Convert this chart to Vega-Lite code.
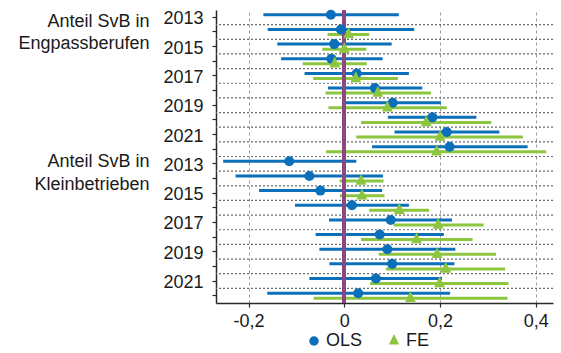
{
  "$schema": "https://vega.github.io/schema/vega-lite/v6.json",
  "width": 337,
  "height": 293,
  "autosize": "none",
  "padding": {"left": 216, "top": 10, "right": 8, "bottom": 50},
  "config": {
    "font": "Liberation Sans",
    "view": {"stroke": null},
    "axis": {"labelFont": "Liberation Sans", "labelFontSize": 18, "labelColor": "#1a1a1a", "domainColor": "#2a2a2a", "tickColor": "#2a2a2a", "domainWidth": 1.5, "tickWidth": 1.2, "tickSize": 4},
    "axisX": {"grid": true, "gridDash": [3, 3], "gridColor": "#9a9a9a", "gridWidth": 1, "labelPadding": 5, "title": null,
      "labelExpr": "datum.value == 0 ? '0' : replace(toString(datum.value), '.', ',')"}
  },
  "data": {
    "values": [
      {"cat": "E2013", "group": "Engpassberufen", "year": 2013, "model": "OLS", "est": -0.028, "lo": -0.169, "hi": 0.114},
      {"cat": "E2014", "group": "Engpassberufen", "year": 2014, "model": "OLS", "est": -0.007, "lo": -0.160, "hi": 0.146},
      {"cat": "E2015", "group": "Engpassberufen", "year": 2015, "model": "OLS", "est": -0.021, "lo": -0.140, "hi": 0.099},
      {"cat": "E2016", "group": "Engpassberufen", "year": 2016, "model": "OLS", "est": -0.027, "lo": -0.132, "hi": 0.080},
      {"cat": "E2017", "group": "Engpassberufen", "year": 2017, "model": "OLS", "est": 0.026, "lo": -0.083, "hi": 0.135},
      {"cat": "E2018", "group": "Engpassberufen", "year": 2018, "model": "OLS", "est": 0.064, "lo": -0.034, "hi": 0.163},
      {"cat": "E2019", "group": "Engpassberufen", "year": 2019, "model": "OLS", "est": 0.101, "lo": -0.003, "hi": 0.202},
      {"cat": "E2020", "group": "Engpassberufen", "year": 2020, "model": "OLS", "est": 0.184, "lo": 0.091, "hi": 0.276},
      {"cat": "E2021", "group": "Engpassberufen", "year": 2021, "model": "OLS", "est": 0.214, "lo": 0.105, "hi": 0.324},
      {"cat": "E2022", "group": "Engpassberufen", "year": 2022, "model": "OLS", "est": 0.220, "lo": 0.058, "hi": 0.383},
      {"cat": "K2013", "group": "Kleinbetrieben", "year": 2013, "model": "OLS", "est": -0.115, "lo": -0.253, "hi": 0.025},
      {"cat": "K2014", "group": "Kleinbetrieben", "year": 2014, "model": "OLS", "est": -0.073, "lo": -0.227, "hi": 0.081},
      {"cat": "K2015", "group": "Kleinbetrieben", "year": 2015, "model": "OLS", "est": -0.050, "lo": -0.178, "hi": 0.079},
      {"cat": "K2016", "group": "Kleinbetrieben", "year": 2016, "model": "OLS", "est": 0.016, "lo": -0.103, "hi": 0.135},
      {"cat": "K2017", "group": "Kleinbetrieben", "year": 2017, "model": "OLS", "est": 0.097, "lo": -0.032, "hi": 0.225},
      {"cat": "K2018", "group": "Kleinbetrieben", "year": 2018, "model": "OLS", "est": 0.074, "lo": -0.060, "hi": 0.208},
      {"cat": "K2019", "group": "Kleinbetrieben", "year": 2019, "model": "OLS", "est": 0.090, "lo": -0.052, "hi": 0.232},
      {"cat": "K2020", "group": "Kleinbetrieben", "year": 2020, "model": "OLS", "est": 0.100, "lo": -0.031, "hi": 0.230},
      {"cat": "K2021", "group": "Kleinbetrieben", "year": 2021, "model": "OLS", "est": 0.066, "lo": -0.073, "hi": 0.204},
      {"cat": "K2022", "group": "Kleinbetrieben", "year": 2022, "model": "OLS", "est": 0.029, "lo": -0.161, "hi": 0.221},
      {"cat": "E2014", "group": "Engpassberufen", "year": 2014, "model": "FE", "est": 0.009, "lo": -0.035, "hi": 0.052},
      {"cat": "E2015", "group": "Engpassberufen", "year": 2015, "model": "FE", "est": 0.000, "lo": -0.046, "hi": 0.046},
      {"cat": "E2016", "group": "Engpassberufen", "year": 2016, "model": "FE", "est": -0.020, "lo": -0.087, "hi": 0.047},
      {"cat": "E2017", "group": "Engpassberufen", "year": 2017, "model": "FE", "est": 0.024, "lo": -0.065, "hi": 0.112},
      {"cat": "E2018", "group": "Engpassberufen", "year": 2018, "model": "FE", "est": 0.070, "lo": -0.039, "hi": 0.181},
      {"cat": "E2019", "group": "Engpassberufen", "year": 2019, "model": "FE", "est": 0.090, "lo": -0.033, "hi": 0.214},
      {"cat": "E2020", "group": "Engpassberufen", "year": 2020, "model": "FE", "est": 0.171, "lo": 0.035, "hi": 0.307},
      {"cat": "E2021", "group": "Engpassberufen", "year": 2021, "model": "FE", "est": 0.200, "lo": 0.025, "hi": 0.373},
      {"cat": "E2022", "group": "Engpassberufen", "year": 2022, "model": "FE", "est": 0.193, "lo": -0.038, "hi": 0.422},
      {"cat": "K2014", "group": "Kleinbetrieben", "year": 2014, "model": "FE", "est": 0.035, "lo": -0.010, "hi": 0.082},
      {"cat": "K2015", "group": "Kleinbetrieben", "year": 2015, "model": "FE", "est": 0.037, "lo": -0.009, "hi": 0.084},
      {"cat": "K2016", "group": "Kleinbetrieben", "year": 2016, "model": "FE", "est": 0.115, "lo": 0.052, "hi": 0.177},
      {"cat": "K2017", "group": "Kleinbetrieben", "year": 2017, "model": "FE", "est": 0.196, "lo": 0.103, "hi": 0.291},
      {"cat": "K2018", "group": "Kleinbetrieben", "year": 2018, "model": "FE", "est": 0.151, "lo": 0.035, "hi": 0.268},
      {"cat": "K2019", "group": "Kleinbetrieben", "year": 2019, "model": "FE", "est": 0.194, "lo": 0.072, "hi": 0.317},
      {"cat": "K2020", "group": "Kleinbetrieben", "year": 2020, "model": "FE", "est": 0.212, "lo": 0.087, "hi": 0.336},
      {"cat": "K2021", "group": "Kleinbetrieben", "year": 2021, "model": "FE", "est": 0.199, "lo": 0.054, "hi": 0.343},
      {"cat": "K2022", "group": "Kleinbetrieben", "year": 2022, "model": "FE", "est": 0.138, "lo": -0.064, "hi": 0.341}
    ]
  },
  "layer": [
    {
      "transform": [{"filter": "datum.model == 'OLS' && datum.cat != 'E2013'"}],
      "mark": {"type": "rule", "color": "#6a6a6a", "strokeDash": [2, 2], "strokeWidth": 1.2},
      "encoding": {
        "y": {"field": "cat", "type": "ordinal", "bandPosition": 0, "axis": null,
          "scale": {"domain": ["E2013","E2014","E2015","E2016","E2017","E2018","E2019","E2020","E2021","E2022","K2013","K2014","K2015","K2016","K2017","K2018","K2019","K2020","K2021","K2022"], "paddingInner": 0, "paddingOuter": 0}}
      }
    },
    {
      "mark": {"type": "rule", "strokeWidth": 3},
      "encoding": {
        "x": {"field": "lo", "type": "quantitative", "title": null,
          "scale": {"domain": [-0.268, 0.436], "nice": false, "zero": false},
          "axis": {"values": [-0.2, 0, 0.2, 0.4]}},
        "x2": {"field": "hi"},
        "y": {"field": "cat", "type": "ordinal", "title": null,
          "scale": {"domain": ["E2013","E2014","E2015","E2016","E2017","E2018","E2019","E2020","E2021","E2022","K2013","K2014","K2015","K2016","K2017","K2018","K2019","K2020","K2021","K2022"], "paddingInner": 0, "paddingOuter": 0},
          "axis": {"orient": "left", "labelOverlap": false, "labelPadding": 9, "labelBaseline": "middle", "labelOffset": 2,
            "labelExpr": "toNumber(substring(datum.value, 1)) % 2 == 1 ? substring(datum.value, 1) : ''"}},
        "yOffset": {"field": "model", "type": "nominal", "scale": {"type": "point", "domain": ["OLS", "FE"], "padding": 0.96}},
        "color": {"condition": {"test": "datum.model == 'OLS'", "value": "#0b6fba"}, "value": "#8cc63f"}
      }
    },
    {
      "mark": {"type": "rule", "color": "#8a4a7e", "strokeWidth": 3},
      "encoding": {"x": {"datum": 0, "type": "quantitative", "title": null, "axis": {"values": [-0.2, 0, 0.2, 0.4]}}}
    },
    {
      "mark": {"type": "point", "filled": true, "opacity": 1, "size": 100},
      "encoding": {
        "x": {"field": "est", "type": "quantitative", "title": null, "axis": {"values": [-0.2, 0, 0.2, 0.4]}},
        "y": {"field": "cat", "type": "ordinal", "title": null,
          "scale": {"domain": ["E2013","E2014","E2015","E2016","E2017","E2018","E2019","E2020","E2021","E2022","K2013","K2014","K2015","K2016","K2017","K2018","K2019","K2020","K2021","K2022"], "paddingInner": 0, "paddingOuter": 0},
          "axis": {"orient": "left", "ticks": false, "domain": false, "labelOverlap": false, "labelPadding": 67, "labelLimit": 0, "labelAlign": "right", "labelBaseline": "top", "labelLineHeight": 22.5,
            "labelOffset": {"condition": {"test": "datum.value == 'K2013'", "value": -10.5}, "value": -4.5},
            "labelExpr": "datum.value == 'E2013' ? ['Anteil SvB in', 'Engpassberufen'] : datum.value == 'K2013' ? ['Anteil SvB in', 'Kleinbetrieben'] : ''"}},
        "yOffset": {"field": "model", "type": "nominal", "scale": {"type": "point", "domain": ["OLS", "FE"], "padding": 0.96}},
        "shape": {"field": "model", "type": "nominal", "scale": {"domain": ["OLS", "FE"], "range": ["circle", "M0,-1.45L1.08,0.75L-1.08,0.75Z"]}, "title": null},
        "color": {"field": "model", "type": "nominal", "scale": {"domain": ["OLS", "FE"], "range": ["#0b6fba", "#8cc63f"]}, "title": null,
          "legend": {"orient": "none", "legendX": 89, "legendY": 322, "direction": "horizontal", "labelFontSize": 18, "labelColor": "#1a1a1a", "symbolSize": 90, "symbolStrokeWidth": 0, "columnPadding": 22, "labelOffset": 3, "padding": 0}}
      }
    }
  ],
  "resolve": {"axis": {"y": "independent"}}
}
